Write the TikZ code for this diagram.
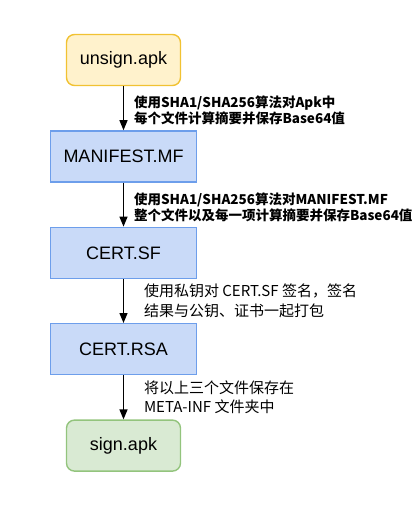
\documentclass[tikz,border=0pt]{standalone}
\usepackage{fontspec}
\setmainfont{Liberation Sans}
\newfontfamily\cjk{Noto Sans CJK SC}
\usepackage{xcolor}
\usetikzlibrary{arrows.meta, positioning, calc}

\definecolor{apkfill}{HTML}{FFF2CC}
\definecolor{apkline}{HTML}{F1C232}
\definecolor{mffill}{HTML}{C9DAF8}
\definecolor{mfline}{HTML}{6D9EEB}
\definecolor{outfill}{HTML}{D9EAD3}
\definecolor{outline}{HTML}{93C47D}

\begin{document}
\begin{tikzpicture}[
    x=1pt, y=1pt,
    font=\fontsize{18}{20}\selectfont,
    op/.style n args={2}{rectangle, draw=#1, fill=#2, line width=1.4pt,
               minimum width=146pt, minimum height=51pt, text centered},
    apk/.style={rounded corners=8pt, minimum width=114pt},
    arr/.style={-{Triangle[length=10pt, width=8pt]}, line width=1.3pt},
    lbl/.style={anchor=west, align=left, text=black},
    node distance=44pt
  ]
  \useasboundingbox (0,0) rectangle (416,-509);

  \node[op={apkline}{apkfill}, apk] at (123.5,-60) (in)  {unsign.apk};
  \node[op={mfline}{mffill},  below=of in]  (mf)  {MANIFEST.MF};
  \node[op={mfline}{mffill},  below=of mf]  (sf)  {CERT.SF};
  \node[op={mfline}{mffill},  below=of sf]  (rsa) {CERT.RSA};
  \node[op={outline}{outfill}, apk, below=of rsa] (out) {sign.apk};

  \foreach \a/\b in {in/mf, mf/sf, sf/rsa, rsa/out}
    \draw[arr] (\a) -- (\b);

  % step labels
  \node[lbl, font=\cjk\bfseries\fontsize{13.5}{16.5}\selectfont, xshift=7pt, yshift=-2pt]
    at ($(in.south)!0.5!(mf.north)$) (l1)
    {使用SHA1/SHA256算法对Apk中\\每个文件计算摘要并保存Base64值};
  \node[lbl, font=\cjk\bfseries\fontsize{13.5}{16.5}\selectfont, xshift=7pt, yshift=-3pt]
    at ($(mf.south)!0.5!(sf.north)$) (l2)
    {使用SHA1/SHA256算法对MANIFEST.MF\\整个文件以及每一项计算摘要并保存Base64值};
  \node[lbl, font=\cjk\fontsize{15}{19.5}\selectfont, xshift=17pt]
    at ($(sf.south)!0.5!(rsa.north)$) (l3)
    {使用私钥对 CERT.SF 签名，签名\\结果与公钥、证书一起打包};
  \node[lbl, font=\cjk\fontsize{15}{19.5}\selectfont, xshift=17pt]
    at ($(rsa.south)!0.5!(out.north)$) (l4)
    {将以上三个文件保存在\\META-INF 文件夹中};

\end{tikzpicture}
\end{document}
